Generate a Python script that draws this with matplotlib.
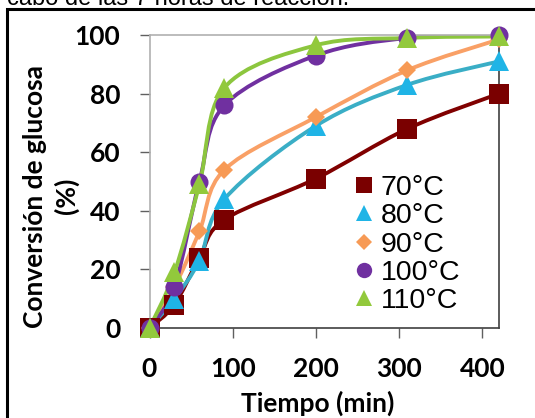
import numpy as np
import matplotlib
matplotlib.use('Agg')
import matplotlib.pyplot as plt
from matplotlib.path import Path
from matplotlib.patches import PathPatch, Rectangle

# datos
tiempo = [0, 30, 60, 90, 200, 310, 420]
conv_70 = [0, 8, 24, 37, 51, 68, 80]
conv_80 = [0, 10, 23, 44, 69, 83, 91]
conv_90 = [0, 14, 33, 54, 72, 88, 98.5]
conv_100 = [0, 14, 50, 76, 93, 99, 100]
conv_110 = [0, 19, 49, 82, 96.5, 99, 99.5]

series = [
    ('70°C', conv_70, '#7a0000', '#800000', 's', 14),
    ('80°C', conv_80, '#1fb4e6', '#3aaec6', '^', 14),
    ('90°C', conv_90, '#f79a55', '#f9a066', 'D', 9.5),
    ('100°C', conv_100, '#7030a0', '#7030a0', 'o', 13),
    ('110°C', conv_110, '#92c93c', '#8cc63e', '^', 14),
]


def smooth_path(x, y):
    # curva tipo Excel (Bezier cubica que pasa por los puntos)
    p = np.column_stack([x, y]).astype(float)
    pe = np.vstack([p[0], p, p[-1]])
    verts = [p[0]]
    codes = [Path.MOVETO]
    for i in range(len(p) - 1):
        c1 = pe[i + 1] + (pe[i + 2] - pe[i]) / 6
        c2 = pe[i + 2] - (pe[i + 3] - pe[i + 1]) / 6
        verts += [c1, c2, pe[i + 2]]
        codes += [Path.CURVE4] * 3
    return Path(verts, codes)


fig = plt.figure(figsize=(5.35, 4.18), dpi=100)
ax = fig.add_axes([149.5 / 535, 1 - 328 / 418, 349.5 / 535, 293 / 418])

for label, vals, mcol, lcol, mk, ms in series:
    ax.add_patch(PathPatch(smooth_path(tiempo, vals), facecolor='none',
                           edgecolor=lcol, lw=2.8, zorder=2))
    ax.plot(tiempo, vals, linestyle='none', marker=mk, ms=ms, color=mcol,
            markeredgewidth=0, label=label, zorder=3, clip_on=False)

ax.set_xlim(0, 420)
ax.set_ylim(0, 100)
ax.set_xticks([0, 100, 200, 300, 400])
ax.set_yticks([0, 20, 40, 60, 80, 100])

for s in ['left', 'top']:
    ax.spines[s].set_color('#b0b0b0')
for s in ['right', 'bottom']:
    ax.spines[s].set_color('#404040')
for s in ax.spines.values():
    s.set_linewidth(1.2)

ax.tick_params(axis='both', direction='out', length=7, width=1, color='#606060',
               labelsize=19, pad=14)
for t in ax.get_xticklabels() + ax.get_yticklabels():
    t.set_fontfamily('Lato')
    t.set_fontweight('bold')

fig.text(51 / 535, 1 - 196 / 418, 'Conversión de glucosa\n(%)', rotation=90,
         ha='center', va='center', multialignment='center', linespacing=1.35,
         fontsize=19, fontweight='bold', family='Lato')
fig.text(318 / 535, 1 - 403 / 418, 'Tiempo (min)', ha='center', va='center',
         fontsize=19, fontweight='bold', family='Lato')

leg = ax.legend(loc='upper left', bbox_to_anchor=(355 / 535, 1 - 175 / 418),
                bbox_transform=fig.transFigure, frameon=False, numpoints=1,
                handlelength=0.65, handletextpad=0.25, labelspacing=0.08,
                borderpad=0, borderaxespad=0, prop={'family': 'Liberation Sans', 'size': 20.5})
for h in leg.legend_handles:
    h.set_markersize(h.get_markersize() * 0.85)

# marco exterior y texto cortado de arriba
fig.patches.append(Rectangle((7 / 535, -0.05), 540 / 535, 1.05 - 9 / 418,
                             transform=fig.transFigure, fill=False,
                             edgecolor='black', lw=2.2))
fig.text(7 / 535, 1 - 5 / 418, 'cabo de las 7 horas de reacción.', ha='left',
         va='baseline', fontsize=17, family='Liberation Sans')

fig.savefig('out.png', dpi=100)
